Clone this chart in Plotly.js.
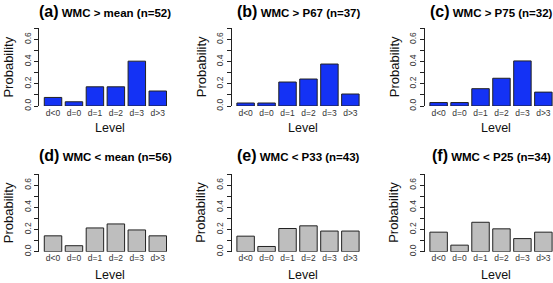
<!DOCTYPE html>
<html>
<head>
<meta charset="utf-8">
<script src="https://cdn.plot.ly/plotly-3.0.1.min.js"></script>
<style>html,body{margin:0;padding:0;background:#fff}#chart{width:553px;height:283px}</style>
</head>
<body>
<div id="chart"></div>
<script>
// ---- data ----
var levels = ['d<0', 'd=0', 'd=1', 'd=2', 'd=3', 'd>3'];
var panelLabels = ['(a)', '(b)', '(c)', '(d)', '(e)', '(f)'];
var panelTitles = ['WMC > mean (n=52)', 'WMC > P67 (n=37)', 'WMC > P75 (n=32)',
                   'WMC < mean (n=56)', 'WMC < P33 (n=43)', 'WMC < P25 (n=34)'];
var probA = [0.077, 0.038, 0.173, 0.173, 0.404, 0.135];
var probB = [0.027, 0.027, 0.216, 0.243, 0.378, 0.108];
var probC = [0.031, 0.031, 0.156, 0.250, 0.406, 0.125];
var probD = [0.143, 0.054, 0.214, 0.250, 0.196, 0.143];
var probE = [0.140, 0.047, 0.209, 0.233, 0.186, 0.186];
var probF = [0.176, 0.059, 0.265, 0.206, 0.118, 0.176];
var yTicks = [0, 0.2, 0.4, 0.6];

var allProb = [probA, probB, probC, probD, probE, probF];
var colors = ['#1432f5', '#1432f5', '#1432f5', '#bebebe', '#bebebe', '#bebebe'];

// ---- layout geometry (pixels) ----
var W = 553, H = 283;
var colLeft = [39.4, 232, 425];
var panelW = 132;
var pxPerSlot = 20.95;
var rowTop = [28.3, 174];
var rowBot = [106, 251.7];
var titleY = [12, 156];
var levelY = [128, 274.5];

function esc(s) { return s.replace(/</g, '&lt;').replace(/>/g, '&gt;'); }

var data = [];
var layout = {
  width: W, height: H,
  margin: {l: 0, r: 0, t: 0, b: 0},
  paper_bgcolor: '#ffffff',
  plot_bgcolor: 'rgba(0,0,0,0)',
  showlegend: false,
  bargap: 1/6,
  font: {family: 'Liberation Sans, Arial, sans-serif', color: '#000'},
  annotations: []
};

for (var i = 0; i < 6; i++) {
  var r = Math.floor(i / 3), c = i % 3;
  var n = i + 1;
  var xa = 'xaxis' + (n === 1 ? '' : n), ya = 'yaxis' + (n === 1 ? '' : n);
  var xr = 'x' + (n === 1 ? '' : n), yr = 'y' + (n === 1 ? '' : n);
  var left = colLeft[c];
  var right = Math.min(left + panelW, W);
  data.push({
    type: 'bar', x: levels, y: allProb[i], xaxis: xr, yaxis: yr,
    cliponaxis: false,
    marker: {color: colors[i], line: {color: '#222', width: 1}},
    hoverinfo: 'skip'
  });
  layout[xa] = {
    domain: [left / W, right / W],
    range: [-0.65, -0.65 + (right - left) / pxPerSlot],
    type: 'category',
    anchor: yr,
    showline: false, showgrid: false, zeroline: false,
    ticks: '',
    tickmode: 'array', tickvals: levels, ticktext: levels.map(esc),
    tickfont: {size: 8.5, color: '#333'},
    ticklabelstandoff: 2.5,
    fixedrange: true
  };
  layout[ya] = {
    domain: [(H - rowBot[r]) / H, (H - rowTop[r]) / H],
    range: [0, 0.7],
    anchor: xr,
    showline: true, linecolor: '#222', linewidth: 1,
    showgrid: false, zeroline: false,
    ticks: 'outside', ticklen: 4.5, tickcolor: '#222', tickwidth: 1,
    tickmode: 'array', tickvals: yTicks, ticktext: yTicks.map(function (v) { return v.toFixed(1); }),
    minor: {dtick: 0.1, tick0: 0, ticks: 'outside', ticklen: 4.5, tickcolor: '#222', tickwidth: 1, showgrid: false},
    tickangle: -90,
    tickfont: {size: 8.5, color: '#333'},
    fixedrange: true
  };
  var cx = (left + left + panelW) / 2;
  layout.annotations.push({
    xref: 'paper', yref: 'paper', x: cx / W, y: (H - titleY[r]) / H,
    xanchor: 'center', yanchor: 'middle', showarrow: false,
    text: '<b><span style="font-size:16px">' + panelLabels[i] + '</span> ' + esc(panelTitles[i]) + '</b>',
    font: {size: 11.5, color: '#000'}
  });
  layout.annotations.push({
    xref: 'paper', yref: 'paper', x: (cx + 4.7) / W, y: (H - levelY[r]) / H,
    xanchor: 'center', yanchor: 'middle', showarrow: false,
    text: 'Level', font: {size: 12.5, color: '#111'}
  });
  layout.annotations.push({
    xref: 'paper', yref: 'paper', x: (left - 31) / W, y: (H - (rowTop[r] + rowBot[r]) / 2) / H,
    xanchor: 'center', yanchor: 'middle', showarrow: false, textangle: -90,
    text: 'Probability', font: {size: 13, color: '#111'}
  });
}

Plotly.newPlot('chart', data, layout, {displayModeBar: false, staticPlot: true});
</script>
</body>
</html>
